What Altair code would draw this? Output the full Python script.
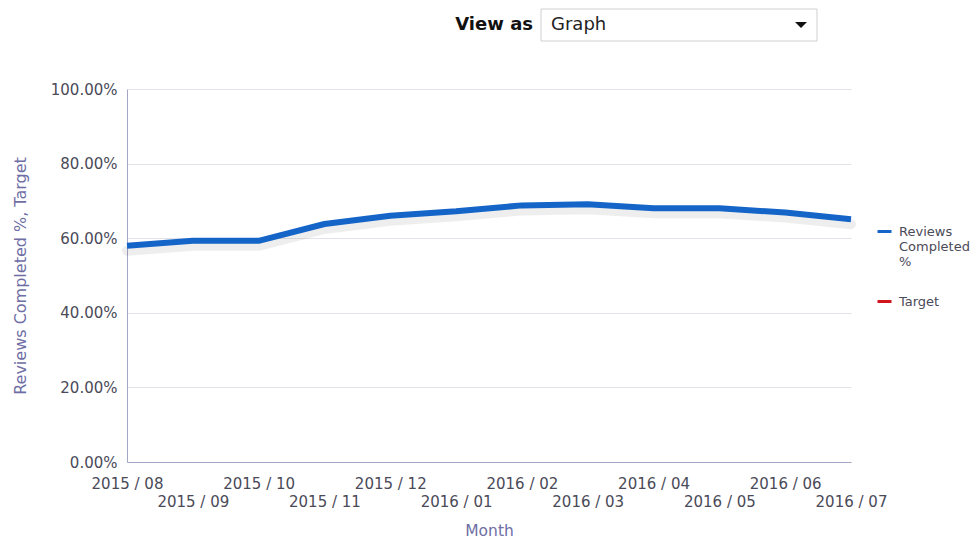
import altair as alt
import pandas as pd

months = ["2015 / 08", "2015 / 09", "2015 / 10", "2015 / 11", "2015 / 12", "2016 / 01",
          "2016 / 02", "2016 / 03", "2016 / 04", "2016 / 05", "2016 / 06", "2016 / 07"]
completed = [0.580, 0.593, 0.593, 0.638, 0.660, 0.672, 0.688, 0.691, 0.680, 0.680, 0.669, 0.651]
target = [None] * 12
series_names = ["Reviews Completed %", "Target"]
series_colors = ["#1565c8", "#d2141c"]
y_ticks = [0, 0.2, 0.4, 0.6, 0.8, 1.0]

rows = []
for m, c, t in zip(months, completed, target):
    rows.append({"Month": m, "series": series_names[0], "value": c})
    rows.append({"Month": m, "series": series_names[1], "value": t})
df = pd.DataFrame(rows)
df_main = df[df["series"] == series_names[0]]

FONT = "DejaVu Sans"
LABEL_COLOR = "#4a4a58"
TITLE_COLOR = "#6e6ea4"

x_enc = alt.X("Month:O", sort=months, scale=alt.Scale(type="point", padding=0),
              axis=alt.Axis(title="Month", labelAngle=0, ticks=False, tickSize=0,
                            labelPadding=14, labelFont=FONT, labelFontSize=15,
                            labelColor=LABEL_COLOR, labelLineHeight=18,
                            labelExpr="toNumber(slice(datum.label, -2)) % 2 == 1 ? ['', datum.label] : datum.label",
                            titleFont=FONT, titleFontSize=15.5, titleFontWeight="normal",
                            titleColor=TITLE_COLOR, titlePadding=14,
                            domainColor="#a4a4c4", grid=False))

y_enc = alt.Y("value:Q", scale=alt.Scale(domain=[0, 1]),
              axis=alt.Axis(title="Reviews Completed %, Target", values=y_ticks, format=".2%",
                            ticks=False, tickSize=0, labelPadding=10, labelFont=FONT,
                            labelFontSize=15, labelColor=LABEL_COLOR,
                            titleFont=FONT, titleFontSize=16, titleFontWeight="normal",
                            titleColor=TITLE_COLOR, titlePadding=22,
                            domainColor="#a4a4c4", gridColor="#e2e2e8", grid=True))

shadow = alt.Chart(df_main).mark_line(strokeWidth=10, opacity=0.08, yOffset=5,
                                      strokeJoin="round", strokeCap="round").encode(
    x=x_enc, y=y_enc, color=alt.value("#222222"))

line = alt.Chart(df).mark_line(strokeWidth=6, strokeJoin="round").encode(
    x=x_enc, y=y_enc,
    color=alt.Color("series:N", scale=alt.Scale(domain=series_names, range=series_colors),
                    legend=alt.Legend(title=None, orient="none", legendX=749, legendY=134,
                                      symbolType="stroke", symbolStrokeWidth=3, symbolSize=196,
                                      labelFont=FONT, labelFontSize=13, labelColor=LABEL_COLOR,
                                      labelOffset=6, labelLimit=200,
                                      rowPadding=24,
                                      labelExpr="datum.label == 'Reviews Completed %' ? ['Reviews', 'Completed', '%'] : datum.label")))

ui = pd.DataFrame({"k": [0]})
box = alt.Chart(ui).mark_rect(fill="white", stroke="#cfcfd4", strokeWidth=1).encode(
    x=alt.value(414), x2=alt.value(690), y=alt.value(-80), y2=alt.value(-48))
view_as = alt.Chart(ui).mark_text(text="View as", align="right", baseline="middle",
                                  font=FONT, fontSize=18, fontWeight="bold", color="#111111").encode(
    x=alt.value(406), y=alt.value(-64))
graph = alt.Chart(ui).mark_text(text="Graph", align="left", baseline="middle",
                                font=FONT, fontSize=18, color="#222222").encode(
    x=alt.value(424), y=alt.value(-64))
tri = alt.Chart(ui).mark_point(shape="M-1,-0.5L1,-0.5L0,0.5Z", size=144, filled=True,
                               color="#111111", opacity=1).encode(
    x=alt.value(674), y=alt.value(-64))

chart = alt.layer(shadow, line, box, view_as, graph, tri).properties(
    width=724, height=373,
    background="white",
    autosize=alt.AutoSizeParams(type="none"),
    padding={"left": 119, "top": 81, "right": 120, "bottom": 78},
).configure_view(strokeWidth=0, stroke="transparent")

chart.save("out.html", embed_options={"renderer": "svg", "actions": False})
